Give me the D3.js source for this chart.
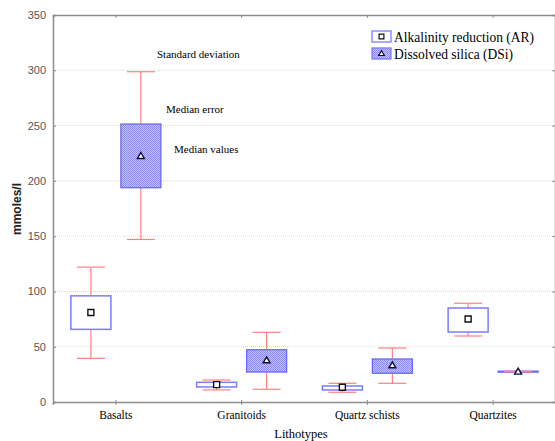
<!DOCTYPE html>
<html>
<head>
<meta charset="utf-8">
<script src="https://cdn.jsdelivr.net/npm/d3@7"></script>
<style>
  html, body { margin: 0; padding: 0; background: #fff; }
  svg { display: block; }
</style>
</head>
<body>
<svg id="chart" width="555" height="441"></svg>
<script>
// Lithotype categories
const categories = ["Basalts", "Granitoids", "Quartz schists", "Quartzites"];

// Alkalinity reduction (AR), mmoles/l
const arMedian = [81, 15.7, 13.3, 75];
const arBoxLow = [65.7, 13.6, 10.9, 63.3];
const arBoxHigh = [96, 17.8, 14.5, 85];
const arWhiskerLow = [39.5, 10.9, 8.8, 59.7];
const arWhiskerHigh = [122, 19.9, 16.9, 89.3];

// Dissolved silica (DSi), mmoles/l
const dsiMedian = [222.5, 37.7, 33.2, 27.5];
const dsiBoxLow = [193.8, 27.1, 26, 27.1];
const dsiBoxHigh = [251.4, 47.3, 38.9, 27.9];
const dsiWhiskerLow = [147, 11.5, 16.9, 27.3];
const dsiWhiskerHigh = [298.7, 63, 48.8, 27.7];

const yTicks = [0, 50, 100, 150, 200, 250, 300, 350];

const svg = d3.select("#chart");
const plotLeft = 53, plotRight = 556, plotTop = 15, plotBottom = 402;

const x = d3.scaleBand().domain(categories).range([plotLeft, plotRight]);
const y = d3.scaleLinear().domain([0, 350]).range([plotBottom, plotTop]);

// hatch pattern for the DSi boxes
const defs = svg.append("defs");
const pat = defs.append("pattern")
  .attr("id", "hatch").attr("patternUnits", "userSpaceOnUse")
  .attr("width", 2).attr("height", 2);
pat.append("rect").attr("width", 2).attr("height", 2).attr("fill", "#c4c4f8");
pat.append("rect").attr("width", 1).attr("height", 1).attr("fill", "#8a8aec");
pat.append("rect").attr("x", 1).attr("y", 1).attr("width", 1).attr("height", 1).attr("fill", "#8a8aec");

// horizontal grid
svg.append("g").selectAll("line")
  .data(yTicks.filter(t => t > 0 && t < 350))
  .join("line")
  .attr("x1", plotLeft).attr("x2", plotRight)
  .attr("y1", d => y(d)).attr("y2", d => y(d))
  .attr("stroke", "#d8d8d8").attr("stroke-width", 1)
  .attr("stroke-dasharray", "1,1");

// left axis
const yAxis = d3.axisLeft(y).tickValues(yTicks).tickSize(-3).tickPadding(7);
const gy = svg.append("g").attr("transform", `translate(${plotLeft},0)`).call(yAxis);
gy.select(".domain").attr("stroke", "#8c8c8c").attr("stroke-width", 1.5);
gy.selectAll(".tick line").attr("stroke", "#8c8c8c");
gy.selectAll(".tick text")
  .attr("font-family", "'Liberation Sans Narrow', 'Arial Narrow', 'Liberation Sans', sans-serif")
  .attr("font-size", 11).attr("fill", "#555");

// right axis
const gyr = svg.append("g").attr("transform", `translate(${plotRight - 1},0)`)
  .call(d3.axisRight(y).tickValues(yTicks).tickSize(-3).tickFormat(""));
gyr.select(".domain").attr("stroke", "#8c8c8c").attr("stroke-width", 1.5);
gyr.selectAll(".tick line").attr("stroke", "#8c8c8c");

// bottom axis
const xAxis = d3.axisBottom(x).tickSize(3).tickPadding(6);
const gx = svg.append("g").attr("transform", `translate(0,${plotBottom})`).call(xAxis);
gx.select(".domain").attr("stroke", "#8c8c8c").attr("stroke-width", 1.5);
gx.selectAll(".tick line").attr("stroke", "#8c8c8c").attr("y1", -2);
gx.selectAll(".tick text")
  .attr("font-family", "'Liberation Serif', 'Times New Roman', serif")
  .attr("font-size", 11.5).attr("fill", "#000");

// top axis
const gt = svg.append("g").attr("transform", `translate(0,${plotTop})`)
  .call(d3.axisTop(x).tickSize(-3).tickFormat(""));
gt.select(".domain").attr("stroke", "#8c8c8c").attr("stroke-width", 1.5);
gt.selectAll(".tick line").attr("stroke", "#8c8c8c");

// box geometry relative to the category centre
const offset = 25, boxW = 40, capW = 28;
const whiskerColor = "#ff8080";

function drawSeries(cls, dx, med, lo, hi, wlo, whi, boxStyle, marker) {
  const g = svg.append("g").attr("class", cls);
  const rows = categories.map((c, i) => ({
    cx: x(c) + x.bandwidth() / 2 + dx,
    med: med[i], lo: lo[i], hi: hi[i], wlo: wlo[i], whi: whi[i]
  }));
  // whisker stems
  g.selectAll(".stem").data(rows).join("line")
    .attr("x1", d => d.cx).attr("x2", d => d.cx)
    .attr("y1", d => y(d.whi)).attr("y2", d => y(d.wlo))
    .attr("stroke", whiskerColor).attr("stroke-width", 1.2);
  // boxes
  const b = g.selectAll(".box").data(rows).join("rect")
    .attr("x", d => d.cx - boxW / 2).attr("width", boxW)
    .attr("y", d => y(d.hi)).attr("height", d => Math.max(1, y(d.lo) - y(d.hi)));
  boxStyle(b);
  // caps
  ["whi", "wlo"].forEach(k => {
    g.selectAll(".cap-" + k).data(rows).join("line")
      .attr("x1", d => d.cx - capW / 2).attr("x2", d => d.cx + capW / 2)
      .attr("y1", d => y(d[k])).attr("y2", d => y(d[k]))
      .attr("stroke", whiskerColor).attr("stroke-width", 1.2);
  });
  // median markers
  g.selectAll(".med").data(rows).join("path")
    .attr("transform", d => `translate(${d.cx},${y(d.med)})`)
    .attr("d", marker)
    .attr("fill", "#fff").attr("stroke", "#111").attr("stroke-width", 1.4);
}

const squarePath = "M-3,-3H3V3H-3Z";
const trianglePath = "M0,-3.5L3.5,2.5H-3.5Z";

drawSeries("ar", -offset, arMedian, arBoxLow, arBoxHigh, arWhiskerLow, arWhiskerHigh,
  s => s.attr("fill", "#fff").attr("stroke", "#7c7cff").attr("stroke-width", 1.5),
  squarePath);
drawSeries("dsi", offset, dsiMedian, dsiBoxLow, dsiBoxHigh, dsiWhiskerLow, dsiWhiskerHigh,
  s => s.attr("fill", "url(#hatch)").attr("stroke", "#6a6af2").attr("stroke-width", 1.3),
  trianglePath);

// annotations explaining the box elements
const serif = "'Liberation Serif', 'Times New Roman', serif";
const notes = [
  { text: "Standard deviation", x: 157, y: 58 },
  { text: "Median error", x: 166, y: 113 },
  { text: "Median values", x: 174, y: 153 }
];
svg.append("g").selectAll("text").data(notes).join("text")
  .attr("x", d => d.x).attr("y", d => d.y)
  .attr("font-family", serif).attr("font-size", 11).attr("fill", "#000")
  .text(d => d.text);

// legend
const legend = [
  { label: "Alkalinity reduction (AR)", fill: "#fff", marker: squarePath, len: 140 },
  { label: "Dissolved silica (DSi)", fill: "url(#hatch)", marker: trianglePath, len: 119 }
];
const lg = svg.append("g").selectAll("g").data(legend).join("g")
  .attr("transform", (d, i) => `translate(372,${31 + i * 17})`);
lg.append("rect").attr("width", 19).attr("height", 11)
  .attr("fill", d => d.fill).attr("stroke", "#7c7cff").attr("stroke-width", 1.3);
lg.append("path").attr("transform", "translate(9.5,5.5) scale(0.8)")
  .attr("d", d => d.marker).attr("fill", "#fff").attr("stroke", "#111").attr("stroke-width", 1.5);
lg.append("text").attr("x", 22).attr("y", 10.5)
  .attr("font-family", serif).attr("font-size", 15.5).attr("fill", "#000")
  .attr("textLength", d => d.len).attr("lengthAdjust", "spacingAndGlyphs")
  .text(d => d.label);

// axis titles
svg.append("text")
  .attr("transform", "translate(21,209) rotate(-90)")
  .attr("text-anchor", "middle")
  .attr("font-family", "'Liberation Sans', Arial, sans-serif")
  .attr("font-size", 12).attr("font-weight", "bold").attr("fill", "#222")
  .text("mmoles/l");
svg.append("text")
  .attr("x", 301).attr("y", 438).attr("text-anchor", "middle")
  .attr("font-family", serif).attr("font-size", 12.5).attr("fill", "#000")
  .text("Lithotypes");
</script>
</body>
</html>
